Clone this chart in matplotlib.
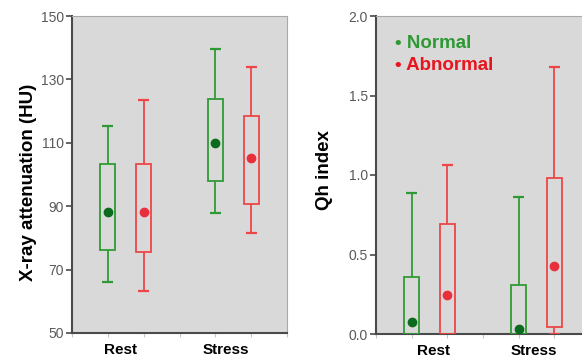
import matplotlib.pyplot as plt
from matplotlib.ticker import FixedLocator

plt.rcParams['font.family'] = ['Liberation Sans', 'DejaVu Sans']

# 数据
groups = ['Rest', 'Stress']
series = ['Normal', 'Abnormal']

# X-ray attenuation (HU): [whisker_low, q1, mean, q3, whisker_high]
hu_normal = [[66, 76.3, 88.1, 103.3, 115.3], [88, 97.8, 109.9, 123.8, 139.5]]
hu_abnormal = [[63.1, 75.7, 88.1, 103.3, 123.5], [81.5, 90.7, 105.3, 118.3, 134.0]]

# Qh index
qh_normal = [[0.0, 0.0, 0.073, 0.358, 0.886], [0.0, 0.0, 0.034, 0.31, 0.861]]
qh_abnormal = [[0.0, 0.0, 0.245, 0.691, 1.064], [0.0, 0.044, 0.425, 0.984, 1.682]]

line_colors = {'Normal': '#2f9a35', 'Abnormal': '#ee4646'}
mean_colors = {'Normal': '#0b6b1c', 'Abnormal': '#e8303c'}
bg = '#d9d9d9'

fig = plt.figure(figsize=(5.82, 3.58), dpi=100)
ax1 = fig.add_axes([72 / 582, 25 / 358, 215 / 582, 317 / 358])
ax2 = fig.add_axes([376 / 582, 24 / 358, 214 / 582, 318 / 358])


def draw_boxes(ax, data_by_series):
    box_w = 0.42
    cap_w = 0.3
    for s_idx, (name, data) in enumerate(data_by_series):
        c = line_colors[name]
        for g_idx, (lo, q1, mean, q3, hi) in enumerate(data):
            x = 1 + 3 * g_idx + s_idx
            ax.bar(x, q3 - q1, bottom=q1, width=box_w, fill=False,
                   edgecolor=c, linewidth=1.3, zorder=3)
            ax.vlines(x, q3, hi, color=c, linewidth=1.3, zorder=3)
            ax.vlines(x, lo, q1, color=c, linewidth=1.3, zorder=3)
            ax.hlines(hi, x - cap_w / 2, x + cap_w / 2, color=c, linewidth=1.6, zorder=3)
            if lo < q1:
                ax.hlines(lo, x - cap_w / 2, x + cap_w / 2, color=c, linewidth=1.6, zorder=3)
            ax.plot(x, mean, 'o', color=mean_colors[name], markersize=6, zorder=4)


def style_axes(ax, label_pos):
    ax.set_facecolor(bg)
    ax.set_xlim(0, 6)
    for side in ['left', 'bottom']:
        ax.spines[side].set_color('#4a4a4a')
        ax.spines[side].set_linewidth(1.5)
    for side in ['top', 'right']:
        ax.spines[side].set_color('#a8a8a8')
        ax.spines[side].set_linewidth(0.8)
    ax.xaxis.set_major_locator(FixedLocator(range(7)))
    ax.set_xticklabels([])
    ax.tick_params(axis='x', which='major', length=3, color='#c8c8c8', direction='out')
    ax.xaxis.set_minor_locator(FixedLocator(label_pos))
    ax.set_xticklabels(groups, minor=True)
    ax.tick_params(axis='x', which='minor', length=0, pad=7, labelsize=11)
    for lbl in ax.get_xticklabels(minor=True):
        lbl.set_fontweight('bold')
    ax.tick_params(axis='y', length=4, width=1.2, color='#4a4a4a',
                   labelsize=10, labelcolor='#5a5a5a', pad=2)


draw_boxes(ax1, [('Normal', hu_normal), ('Abnormal', hu_abnormal)])
style_axes(ax1, [1.35, 4.3])
ax1.set_ylim(50, 150)
ax1.set_yticks([50, 70, 90, 110, 130, 150])
ax1.set_ylabel('X-ray attenuation (HU)', fontsize=13.5, fontweight='bold')
ax1.yaxis.set_label_coords(-0.165, 0.475)

draw_boxes(ax2, [('Normal', qh_normal), ('Abnormal', qh_abnormal)])
style_axes(ax2, [1.62, 4.43])
ax2.set_ylim(0, 2.0)
ax2.set_yticks([0.0, 0.5, 1.0, 1.5, 2.0])
ax2.set_yticklabels(['0.0', '0.5', '1.0', '1.5', '2.0'])
ax2.set_ylabel('Qh index', fontsize=13.5, fontweight='bold')
ax2.yaxis.set_label_coords(-0.20, 0.515)

# 图例文字
ax2.text(0.09, 0.915, '\u2022 Normal', transform=ax2.transAxes, color=line_colors['Normal'],
         fontsize=13.5, fontweight='bold', va='center')
ax2.text(0.09, 0.843, '\u2022 Abnormal', transform=ax2.transAxes, color='#e8141e',
         fontsize=13.5, fontweight='bold', va='center')

plt.savefig('out.png', dpi=100)
plt.close()
